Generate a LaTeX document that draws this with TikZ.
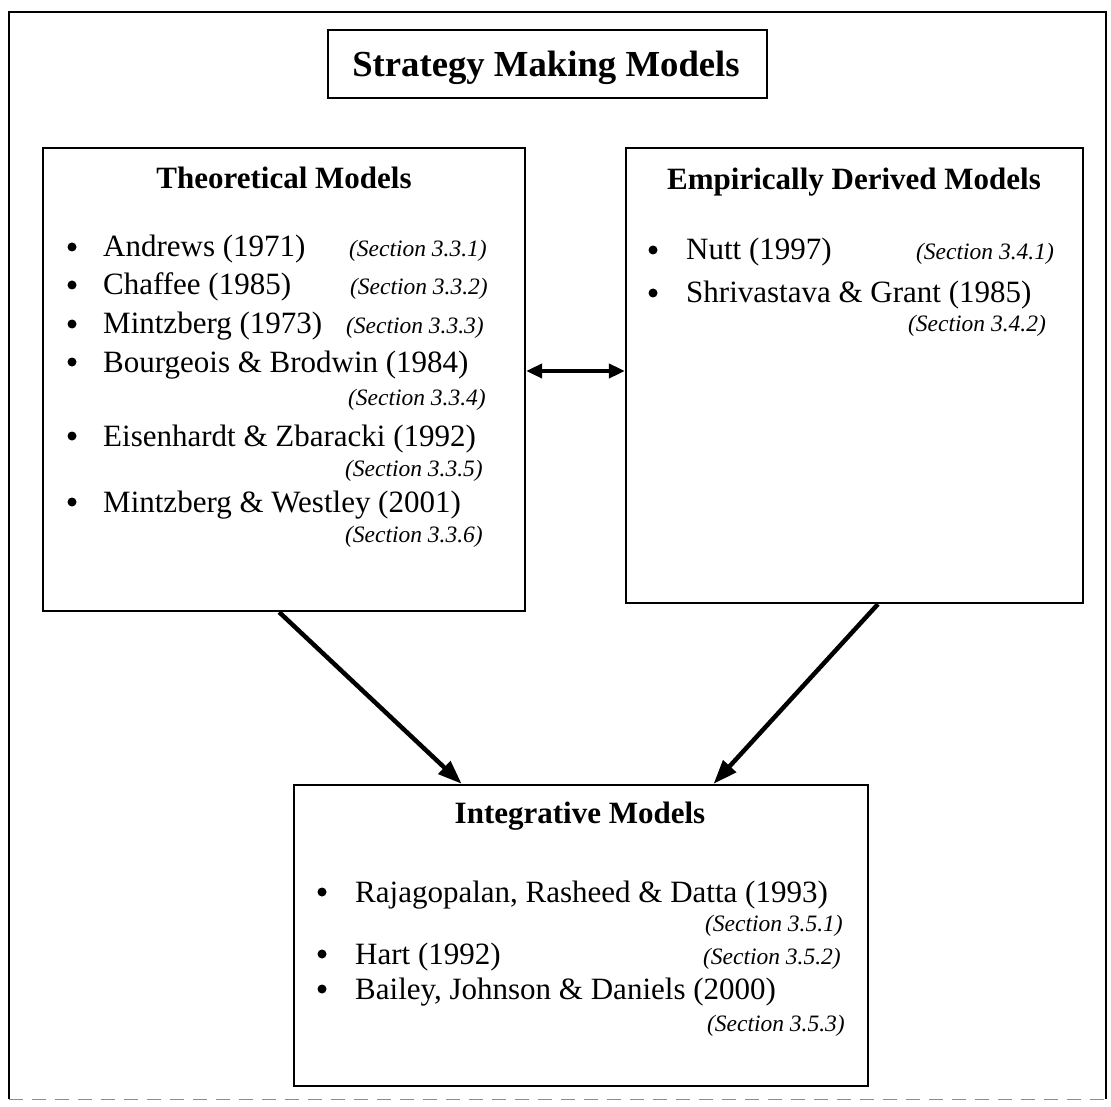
\documentclass[tikz,border=0pt]{standalone}
\usepackage{fontspec}
\setmainfont{Liberation Serif}
\usetikzlibrary{arrows.meta,calc}
\begin{document}
\begin{tikzpicture}[x=1pt,y=-1pt,
  frame/.style={line width=1.6pt},
  panel/.style={draw, line width=2.3pt, inner sep=0pt},
  banner/.style={font=\fontsize{36.7}{40}\selectfont\bfseries, anchor=base, inner sep=0pt},
  heading/.style={font=\fontsize{31}{36}\selectfont\bfseries, anchor=base, inner sep=0pt},
  entry/.style={font=\fontsize{31}{36}\selectfont, anchor=base west, inner sep=0pt},
  bul/.style={circle, fill, inner sep=0pt, minimum size=9pt, yshift=10pt},
  secref/.style={font=\fontsize{23.5}{27}\selectfont\itshape, anchor=base east, inner sep=0pt},
  flow/.style={line width=4.5pt, -{Triangle[length=24pt,width=17pt]}},
  link/.style={line width=4pt, {Triangle[length=16pt,width=14pt]}-{Triangle[length=16pt,width=14pt]}}
]
\useasboundingbox (0,0) rectangle (1111,1107);

% outer frame: solid on three sides, faint along the bottom
\node[inner sep=0pt, minimum width=1097, minimum height=1087] (outer) at (557.5,555.5) {};
\draw[frame] (outer.south west) -- (outer.north west) -- (outer.north east) -- (outer.south east);
\draw[black!45, line width=0.8pt, dash pattern=on 14pt off 9pt] (outer.south west) -- (outer.south east);

% title
\node[panel, minimum width=439, minimum height=68] (titlebox) at (547.5,64) {};
\node[banner] (titletext) at (546,77) {Strategy Making Models};

% the three panels
\node[panel, minimum width=482, minimum height=463] (theo) at (284,379.5) {};
\node[panel, minimum width=457, minimum height=455] (emp) at (854.5,375.5) {};
\node[panel, minimum width=574, minimum height=301] (integ) at (581,935.5) {};

% theoretical models
\node[heading] (theoH) at (284,189) {Theoretical Models};
\node[bul] (tb1) at (72,257) {};
\node[entry] (t1) at (103,257) {Andrews (1971)};
\node[secref] (s1) at (487,257) {(Section 3.3.1)};
\node[bul] (tb2) at (72,295) {};
\node[entry] (t2) at (103,295) {Chaffee (1985)};
\node[secref] (s2) at (488,295) {(Section 3.3.2)};
\node[bul] (tb3) at (72,334) {};
\node[entry] (t3) at (103,334) {Mintzberg (1973)};
\node[secref] (s3) at (484,334) {(Section 3.3.3)};
\node[bul] (tb4) at (72,372) {};
\node[entry] (t4) at (103,372) {Bourgeois \& Brodwin (1984)};
\node[secref] (s4) at (486,405) {(Section 3.3.4)};
\node[bul] (tb5) at (72,446) {};
\node[entry] (t5) at (103,446) {Eisenhardt \& Zbaracki (1992)};
\node[secref] (s5) at (483,476) {(Section 3.3.5)};
\node[bul] (tb6) at (72,512) {};
\node[entry] (t6) at (103,512) {Mintzberg \& Westley (2001)};
\node[secref] (s6) at (483,542) {(Section 3.3.6)};

% empirically derived models
\node[heading] (empH) at (854,190) {Empirically Derived Models};
\node[bul] (eb1) at (653,260) {};
\node[entry] (e1) at (686,260) {Nutt (1997)};
\node[secref] (r1) at (1054,260) {(Section 3.4.1)};
\node[bul] (eb2) at (653,303) {};
\node[entry] (e2) at (686,303) {Shrivastava \& Grant (1985)};
\node[secref] (r2) at (1046,331) {(Section 3.4.2)};

% integrative models
\node[heading] (integH) at (580,823) {Integrative Models};
\node[bul] (ib1) at (322,902) {};
\node[entry] (i1) at (355,902) {Rajagopalan, Rasheed \& Datta (1993)};
\node[secref] (q1) at (843,931) {(Section 3.5.1)};
\node[bul] (ib2) at (322,964) {};
\node[entry] (i2) at (355,964) {Hart (1992)};
\node[secref] (q2) at (841,964) {(Section 3.5.2)};
\node[bul] (ib3) at (322,999) {};
\node[entry] (i3) at (355,999) {Bailey, Johnson \& Daniels (2000)};
\node[secref] (q3) at (845,1031) {(Section 3.5.3)};

% connectors
\coordinate (linkrow) at (575,371);
\draw[link] (linkrow -| theo.east) -- (linkrow -| emp.west);
\draw[flow] ($(theo.south west)!0.49!(theo.south east)$) -- ($(integ.north west)!0.293!(integ.north east)$);
\draw[flow] ($(emp.south west)!0.551!(emp.south east)$) -- ($(integ.north west)!0.73!(integ.north east)$);
\end{tikzpicture}
\end{document}
